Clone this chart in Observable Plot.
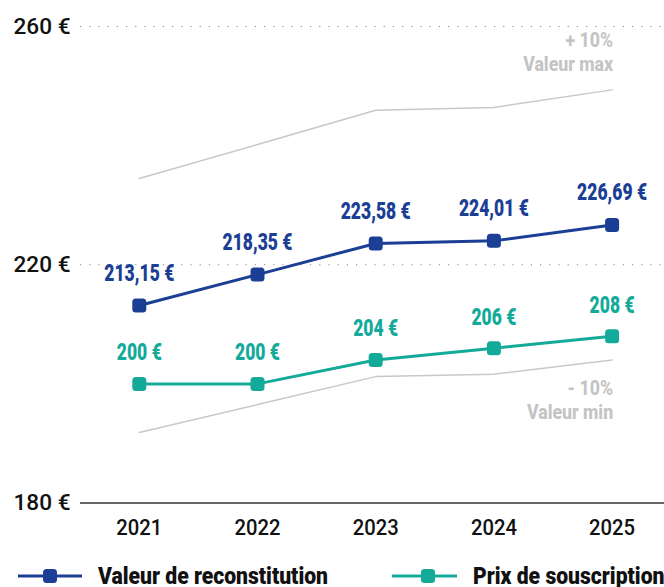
<!DOCTYPE html>
<html>
<head>
<meta charset="utf-8">
<script src="https://cdn.jsdelivr.net/npm/d3@7"></script>
<script src="https://cdn.jsdelivr.net/npm/@observablehq/plot@0.6"></script>
<style>
  html, body { margin: 0; padding: 0; background: #fff; }
  #wrap { position: relative; width: 664px; height: 587px; overflow: hidden; }
  #wrap svg.plot { position: absolute; left: 0; top: 0; }
  g[aria-label="y-axis tick label"] text { font: 500 22px Roboto, sans-serif; fill: #111; }
  g[aria-label="x-axis tick label"] text { font: 500 22px Roboto, sans-serif; fill: #111; }
  .legend-item { position: absolute; top: 563px; height: 26px; display: flex; align-items: center;
    font: 900 24px Roboto, sans-serif; color: #111; white-space: nowrap; }
  .legend-item svg { margin-right: 16px; flex: none; }
  .legend-item span { display: inline-block; transform-origin: 0 50%; }
</style>
</head>
<body>
<div id="wrap"></div>
<script>
const years = [2021, 2022, 2023, 2024, 2025];
const reconstitution = [213.15, 218.35, 223.58, 224.01, 226.69];
const souscription = [200, 200, 204, 206, 208];
const valeurMax = [234.47, 240.19, 245.94, 246.41, 249.36];
const valeurMin = [191.84, 196.52, 201.22, 201.61, 204.02];
const yTicks = [180, 220, 260];
const seriesNames = ["Valeur de reconstitution", "Prix de souscription"];

const BLUE = "#1b3f94";
const TEAL = "#14aa9a";
const GREY = "#c8c8c8";
const GREY_TXT = "#c4c4c4";
const FONT = 'Roboto, sans-serif';

const recoData = years.map((y, i) => ({year: y, value: reconstitution[i]}));
const sousData = years.map((y, i) => ({year: y, value: souscription[i]}));
const maxData = years.map((y, i) => ({year: y, value: valeurMax[i]}));
const minData = years.map((y, i) => ({year: y, value: valeurMin[i]}));

const roundedSquare = {
  draw(context, size) {
    const h = Math.sqrt(size / Math.PI), c = 3.5;
    context.moveTo(-h + c, -h);
    context.lineTo(h - c, -h);
    context.arcTo(h, -h, h, -h + c, c);
    context.lineTo(h, h - c);
    context.arcTo(h, h, h - c, h, c);
    context.lineTo(-h + c, h);
    context.arcTo(-h, h, -h, h - c, c);
    context.lineTo(-h, -h + c);
    context.arcTo(-h, -h, -h + c, -h, c);
    context.closePath();
  }
};

const fmtReco = v => v.toFixed(2).replace(".", ",") + " €";
const fmtSous = v => v + " €";

const W = 664, H = 555;
const xStep = 118.2;
const xLeft = 80, xFirst = 138.8;
const xDomain = [2021 - (xFirst - xLeft) / xStep, 2025 + (W - (xFirst + 4 * xStep)) / xStep];

const plot = Plot.plot({
  width: W,
  height: H,
  marginTop: 26,
  marginBottom: H - 502.5,
  marginLeft: xLeft,
  marginRight: 0,
  x: {type: "linear", domain: xDomain, axis: null},
  y: {domain: [180, 260], axis: null},
  style: {fontFamily: FONT, background: "#fff", overflow: "visible"},
  marks: [
    Plot.ruleY(yTicks.filter(d => d !== 180), {stroke: "#888", strokeWidth: 1.2, strokeDasharray: "1.2,8"}),
    Plot.ruleY([180], {stroke: "#333", strokeWidth: 1.5}),
    Plot.axisY(yTicks, {anchor: "left", tickSize: 0, tickPadding: 10, label: null, tickFormat: d => d + " €"}),
    Plot.axisX(years, {anchor: "bottom", tickSize: 0, tickPadding: 16, label: null, tickFormat: d => String(d)}),
    Plot.line(maxData, {x: "year", y: "value", stroke: GREY, strokeWidth: 1.5}),
    Plot.line(minData, {x: "year", y: "value", stroke: GREY, strokeWidth: 1.5}),
    Plot.text([maxData[maxData.length - 1]], {x: "year", y: "value", text: () => "+ 10%\nValeur max",
      textAnchor: "end", lineAnchor: "bottom", lineHeight: 1.2, dx: 1, dy: -19,
      fill: GREY_TXT, fontWeight: 800, fontSize: 20, fontFamily: FONT}),
    Plot.text([minData[minData.length - 1]], {x: "year", y: "value", text: () => "- 10%\nValeur min",
      textAnchor: "end", lineAnchor: "top", lineHeight: 1.2, dx: 1, dy: 18,
      fill: GREY_TXT, fontWeight: 800, fontSize: 20, fontFamily: FONT}),
    Plot.line(recoData, {x: "year", y: "value", stroke: BLUE, strokeWidth: 3}),
    Plot.line(sousData, {x: "year", y: "value", stroke: TEAL, strokeWidth: 3}),
    Plot.dot(recoData, {x: "year", y: "value", r: 7, symbol: roundedSquare, fill: BLUE, stroke: "none"}),
    Plot.dot(sousData, {x: "year", y: "value", r: 7, symbol: roundedSquare, fill: TEAL, stroke: "none"}),
    Plot.text(recoData, {x: "year", y: "value", text: d => fmtReco(d.value), dy: -32,
      fill: BLUE, fontWeight: 900, fontSize: 23, fontFamily: FONT}),
    Plot.text(sousData, {x: "year", y: "value", text: d => fmtSous(d.value), dy: -31,
      fill: TEAL, fontWeight: 900, fontSize: 23, fontFamily: FONT})
  ]
});
plot.classList.add("plot");
const wrap = document.getElementById("wrap");
wrap.appendChild(plot);

// horizontal condensation of texts (the reference uses a condensed face)
function condense(texts, k) {
  texts.forEach(t => {
    const tr = t.getAttribute("transform") || "";
    t.setAttribute("transform", tr + ` scale(${k},1)`);
  });
}
const textGroups = Array.from(plot.querySelectorAll('g[aria-label="text"]'));
const annTexts = textGroups.slice(0, 2).flatMap(g => Array.from(g.querySelectorAll("text")));
const dataTexts = textGroups.slice(2).flatMap(g => Array.from(g.querySelectorAll("text")));
const kData = 70 / dataTexts[0].getComputedTextLength();
condense(dataTexts, kData);
const vmax = annTexts[0].querySelectorAll("tspan")[1];
const kAnn = 90 / (vmax ? vmax.getComputedTextLength() : annTexts[0].getComputedTextLength());
condense(annTexts, kAnn);
const xTexts = Array.from(plot.querySelectorAll('g[aria-label="x-axis tick label"] text'));
condense(xTexts, 46 / xTexts[0].getComputedTextLength());
const yTexts = Array.from(plot.querySelectorAll('g[aria-label="y-axis tick label"] text'));
condense(yTexts, 57 / yTexts[yTexts.length - 1].getComputedTextLength());

function legendItem(name, color, left, lineW, markX) {
  const div = document.createElement("div");
  div.className = "legend-item";
  div.style.left = left + "px";
  div.innerHTML = `<svg width="${lineW}" height="16" viewBox="0 0 ${lineW} 16">
    <line x1="0" x2="${lineW}" y1="8" y2="8" stroke="${color}" stroke-width="3"/>
    <rect x="${markX - 7}" y="1" width="14" height="14" rx="3.5" fill="${color}"/></svg><span>${name}</span>`;
  wrap.appendChild(div);
  return div.querySelector("span");
}
const s1 = legendItem(seriesNames[0], BLUE, 18, 64, 32);
const s2 = legendItem(seriesNames[1], TEAL, 392, 65, 36);
const kLeg = 230 / s1.getBoundingClientRect().width;
[s1, s2].forEach(s => s.style.transform = `scaleX(${kLeg})`);
</script>
</body>
</html>
